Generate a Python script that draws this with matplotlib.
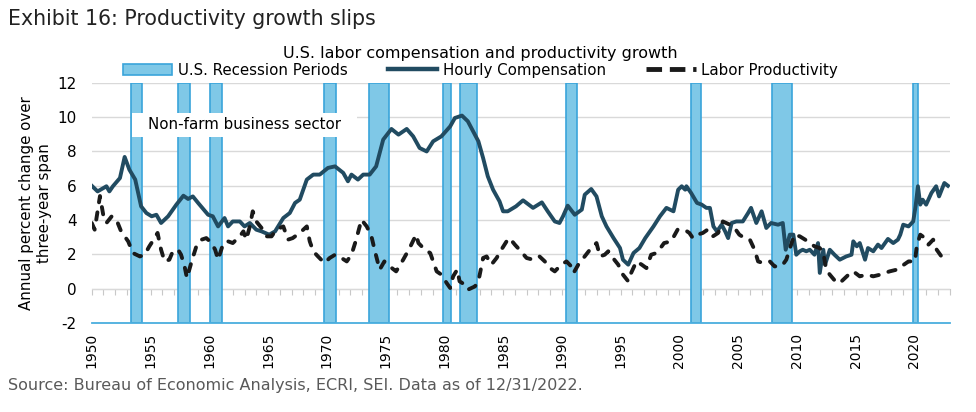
import matplotlib
matplotlib.use("Agg")
import matplotlib.pyplot as plt
from matplotlib.patches import Patch, Rectangle
from matplotlib.lines import Line2D

plt.rcParams["axes.unicode_minus"] = False

# recession periods (start / end, fractional years)
rec_start = [1953.3, 1957.35, 1960.05, 1969.8, 1973.55, 1979.85, 1981.3, 1990.35, 2001.0, 2007.85, 2019.9]
rec_end = [1954.3, 1958.35, 1961.05, 1970.8, 1975.3, 1980.6, 1982.8, 1991.3, 2001.8, 2009.6, 2020.3]

# hourly compensation, annual % change over three-year span
comp_years = [1950.0, 1950.5, 1951.25, 1951.5, 1951.8, 1952.4, 1952.8, 1953.2, 1953.7, 1954.2,
              1954.65, 1955.1, 1955.5, 1955.9, 1956.5, 1957.2, 1957.8, 1958.2, 1958.6, 1959.05,
              1959.9, 1960.3, 1960.75, 1961.3, 1961.6, 1962.0, 1962.6, 1963.0, 1963.45, 1964.0,
              1964.45, 1965.1, 1965.6, 1966.3, 1966.85, 1967.3, 1967.7, 1968.3, 1968.85, 1969.4,
              1970.1, 1970.7, 1971.4, 1971.8, 1972.1, 1972.65, 1973.1, 1973.65, 1974.2, 1974.8,
              1975.5, 1976.1, 1976.8, 1977.35, 1977.9, 1978.5, 1979.05, 1979.75, 1980.5, 1980.9,
              1981.5, 1982.0, 1982.45, 1982.9, 1983.3, 1983.7, 1984.15, 1984.7, 1985.0, 1985.4,
              1986.1, 1986.7, 1987.55, 1988.3, 1988.8, 1989.4, 1989.8, 1990.1, 1990.5, 1991.1,
              1991.7, 1991.95, 1992.5, 1992.95, 1993.4, 1993.8, 1994.4, 1994.95, 1995.2, 1995.65,
              1996.1, 1996.6, 1997.1, 1997.8, 1998.35, 1998.9, 1999.5, 1999.9, 2000.2, 2000.5,
              2000.6, 2001.0, 2001.5, 2001.9, 2002.3, 2002.6, 2002.9, 2003.2, 2003.6, 2003.9,
              2004.15, 2004.45, 2004.85, 2005.4, 2005.85, 2006.1, 2006.55, 2007.0, 2007.4, 2007.8,
              2008.4, 2008.8, 2009.05, 2009.4, 2009.7, 2009.95, 2010.25, 2010.5, 2010.8, 2011.1,
              2011.5, 2011.8, 2011.95, 2012.25, 2012.4, 2012.8, 2013.2, 2013.65, 2014.2, 2014.65,
              2014.8, 2015.1, 2015.35, 2015.8, 2016.05, 2016.5, 2016.9, 2017.2, 2017.75, 2018.2,
              2018.6, 2018.8, 2019.05, 2019.5, 2019.9, 2020.1, 2020.3, 2020.5, 2020.7, 2021.0,
              2021.45, 2021.85, 2022.1, 2022.55, 2022.85]
comp_vals = [6.0, 5.67, 5.97, 5.67, 5.97, 6.45, 7.68, 6.94, 6.36, 4.8,
             4.41, 4.22, 4.31, 3.83, 4.22, 4.9, 5.42, 5.23, 5.38, 5.0,
             4.31, 4.22, 3.63, 4.12, 3.63, 3.92, 3.92, 3.63, 3.83, 3.44,
             3.34, 3.15, 3.34, 4.12, 4.41, 5.0, 5.19, 6.36, 6.65, 6.65,
             7.04, 7.13, 6.75, 6.26, 6.65, 6.36, 6.65, 6.65, 7.13, 8.69,
             9.31, 8.98, 9.31, 8.88, 8.2, 8.0, 8.59, 8.88, 9.46, 9.95,
             10.09, 9.76, 9.17, 8.59, 7.62, 6.55, 5.77, 5.09, 4.51, 4.51,
             4.8, 5.15, 4.71, 5.03, 4.51, 3.92, 3.83, 4.22, 4.84, 4.31,
             4.61, 5.48, 5.81, 5.38, 4.22, 3.63, 2.95, 2.37, 1.69, 1.4,
             2.08, 2.37, 2.95, 3.63, 4.22, 4.71, 4.51, 5.77, 5.97, 5.77,
             5.97, 5.58, 5.0, 4.9, 4.71, 4.71, 3.63, 3.34, 3.73, 3.34,
             2.95, 3.83, 3.92, 3.92, 4.41, 4.71, 3.83, 4.51, 3.54, 3.83,
             3.73, 3.83, 2.27, 3.15, 3.15, 1.98, 2.18, 2.27, 2.18, 2.27,
             1.98, 2.66, 0.92, 2.27, 1.4, 2.27, 1.98, 1.69, 1.88, 1.98,
             2.76, 2.47, 2.66, 1.69, 2.37, 2.18, 2.57, 2.37, 2.9, 2.66,
             2.86, 3.15, 3.73, 3.63, 3.92, 4.8, 5.97, 4.9, 5.19, 4.9,
             5.58, 5.97, 5.38, 6.16, 6.0]

# labor productivity, annual % change over three-year span
prod_years = [1950.0, 1950.25, 1950.5, 1950.7, 1951.0, 1951.25, 1951.7, 1952.1, 1952.5, 1952.8,
              1953.1, 1953.5, 1954.1, 1954.5, 1954.9, 1955.35, 1955.6, 1955.9, 1956.2, 1956.6,
              1956.9, 1957.35, 1957.6, 1957.9, 1958.1, 1958.5, 1958.9, 1959.35, 1959.75, 1960.2,
              1960.5, 1960.75, 1961.2, 1961.6, 1962.0, 1962.3, 1962.6, 1962.9, 1963.15, 1963.45,
              1963.7, 1964.0, 1964.45, 1964.9, 1965.3, 1965.7, 1966.3, 1966.7, 1967.1, 1967.7,
              1968.3, 1968.55, 1968.85, 1969.25, 1969.8, 1970.25, 1970.7, 1971.25, 1971.7, 1972.1,
              1972.5, 1972.95, 1973.4, 1973.8, 1974.1, 1974.5, 1974.9, 1975.35, 1975.9, 1976.5,
              1977.05, 1977.6, 1977.8, 1978.35, 1978.8, 1979.05, 1979.35, 1979.75, 1980.2, 1980.5,
              1980.75, 1981.1, 1981.3, 1981.75, 1982.0, 1982.6, 1982.9, 1983.3, 1983.6, 1984.0,
              1984.45, 1984.85, 1985.3, 1985.55, 1986.0, 1986.4, 1987.0, 1987.55, 1988.1, 1988.55,
              1989.0, 1989.4, 1989.95, 1990.4, 1990.8, 1991.0, 1991.4, 1991.95, 1992.5, 1992.95,
              1993.25, 1993.65, 1993.95, 1994.35, 1994.8, 1995.2, 1995.65, 1995.9, 1996.35, 1996.8,
              1997.2, 1997.6, 1998.05, 1998.5, 1998.7, 1999.3, 1999.85, 2000.45, 2000.85, 2001.15,
              2001.55, 2002.0, 2002.4, 2002.85, 2003.3, 2003.7, 2004.3, 2004.7, 2005.1, 2005.55,
              2006.0, 2006.4, 2006.7, 2007.1, 2007.7, 2008.1, 2008.5, 2008.8, 2009.1, 2009.55,
              2009.8, 2010.25, 2010.7, 2011.1, 2011.5, 2011.95, 2012.25, 2012.5, 2012.8, 2013.4,
              2013.8, 2014.4, 2014.8, 2015.35, 2015.95, 2016.5, 2017.1, 2017.5, 2017.9, 2018.5,
              2018.9, 2019.5, 2020.05, 2020.2, 2020.5, 2020.9, 2021.2, 2021.6, 2021.9, 2022.2,
              2022.5, 2022.85]
prod_vals = [3.83, 3.44, 4.51, 5.4, 4.22, 3.83, 4.22, 4.02, 3.34, 3.05,
             2.76, 2.08, 1.88, 1.98, 2.47, 2.95, 3.25, 2.27, 1.59, 1.69,
             2.18, 2.27, 1.98, 1.3, 0.62, 1.59, 2.47, 2.86, 2.95, 2.66,
             2.27, 1.69, 2.66, 2.76, 2.66, 2.86, 3.05, 3.34, 2.86, 3.63,
             4.51, 3.92, 3.54, 3.05, 3.05, 3.44, 3.63, 2.86, 2.95, 3.25,
             3.63, 2.76, 2.18, 1.88, 1.5, 1.79, 1.98, 1.79, 1.59, 1.98,
             2.86, 4.02, 3.63, 3.05, 2.18, 1.11, 1.59, 1.3, 1.01, 1.69,
             2.37, 3.15, 2.66, 2.27, 2.08, 1.59, 1.01, 0.82, 0.33, 0.04,
             0.72, 1.11, 0.43, 0.23, -0.06, 0.13, 0.43, 1.79, 1.88, 1.4,
             1.79, 2.27, 2.76, 2.95, 2.57, 2.27, 1.79, 1.69, 1.88, 1.59,
             1.2, 1.01, 1.4, 1.59, 1.3, 0.92, 1.4, 1.88, 2.37, 2.66,
             1.88, 1.98, 2.18, 1.79, 1.4, 0.82, 0.43, 0.92, 1.59, 1.4,
             1.2, 1.98, 2.08, 2.47, 2.66, 2.76, 3.44, 3.44, 3.25, 2.95,
             3.15, 3.25, 3.44, 3.05, 3.25, 3.92, 3.73, 3.54, 3.15, 2.95,
             2.86, 2.27, 1.59, 1.5, 1.59, 1.3, 1.3, 1.4, 1.69, 2.66,
             3.15, 3.05, 2.86, 2.66, 2.47, 2.37, 2.08, 1.11, 0.82, 0.33,
             0.43, 0.82, 1.01, 0.72, 0.82, 0.72, 0.82, 0.92, 1.01, 1.11,
             1.3, 1.59, 1.59, 2.47, 3.15, 2.95, 2.57, 2.86, 2.27, 1.98,
             1.69, 1.59]

x_ticks = list(range(1950, 2021, 5))
y_ticks = list(range(-2, 13, 2))

bar_face = "#7fc8e7"
bar_edge = "#3aa4da"
comp_color = "#214b61"

fig = plt.figure(figsize=(9.76, 4.12), dpi=100)
ax = fig.add_axes([0.094, 0.216, 0.879, 0.583])

for s, e in zip(rec_start, rec_end):
    ax.axvspan(s, e, facecolor=bar_face, edgecolor=bar_edge, linewidth=1.2, zorder=1)

ax.plot(comp_years, comp_vals, color=comp_color, lw=2.8, zorder=3, solid_joinstyle="round")
ax.plot(prod_years, prod_vals, color="#1a1a1a", lw=2.8, zorder=3,
        dashes=(1.9, 2.6), dash_capstyle="round")

ax.set_xlim(1950, 2023)
ax.set_ylim(-2, 12)
ax.set_yticks(y_ticks)
ax.set_xticks(x_ticks)
ax.set_xticklabels([str(x) for x in x_ticks], rotation=90, fontsize=10)
ax.tick_params(axis="x", length=0, pad=7)
ax.tick_params(axis="y", length=0, pad=11, labelsize=11)
ax.yaxis.grid(True, color="#d9d9d9", lw=1)
ax.set_axisbelow(True)
for sp in ["top", "left", "right"]:
    ax.spines[sp].set_visible(False)
ax.spines["bottom"].set_color("#4aaede")
ax.spines["bottom"].set_linewidth(1.3)

# zero line with yearly ticks
zero = ax.secondary_xaxis(2 / 14)
zero.set_xticks(range(1950, 2024))
zero.set_xticklabels([])
zero.tick_params(length=4, color="#c8c8c8", direction="out")
zero.spines["bottom"].set_color("#c8c8c8")

ax.set_ylabel("Annual percent change over\nthree-year span", fontsize=10.8, labelpad=4)

# label box
ax.add_patch(Rectangle((1953.4, 8.86), 19.2, 1.4, facecolor="white", edgecolor="none", zorder=2))
ax.text(1963.0, 9.56, "Non-farm business sector", ha="center", va="center", fontsize=10.8, zorder=4)

handles = [Patch(facecolor=bar_face, edgecolor=bar_edge, linewidth=1.2),
           Line2D([], [], color=comp_color, lw=3.2),
           Line2D([], [], color="#1a1a1a", lw=3.5, dashes=(3.2, 1.6))]
labels = ["U.S. Recession Periods", "Hourly Compensation", "Labor Productivity"]
leg = fig.legend(handles, labels, ncol=3, loc="lower center", bbox_to_anchor=(0.492, 0.79),
                 frameon=False, fontsize=10.8, handlelength=3.3, handleheight=0.8,
                 columnspacing=2.7, handletextpad=0.35,
                 title="U.S. labor compensation and productivity growth",
                 title_fontsize=11.5, borderpad=0.1, labelspacing=0.1)
leg._legend_box.sep = 1

fig.text(0.008, 0.955, "Exhibit 16: Productivity growth slips", fontsize=14.8, va="center",
         color="#222222")
fig.text(0.008, 0.065, "Source: Bureau of Economic Analysis, ECRI, SEI. Data as of 12/31/2022.",
         fontsize=11.5, color="#595959", va="center")

fig.savefig("out.png", dpi=100)
